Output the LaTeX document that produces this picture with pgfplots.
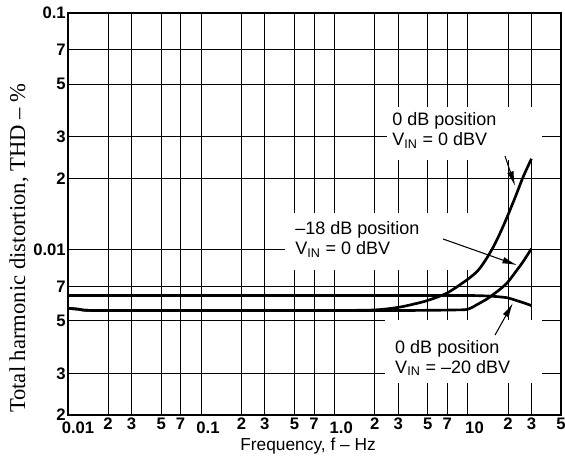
\documentclass[border=0pt]{standalone}
\usepackage{pgfplots}
\pgfplotsset{compat=1.18}
\usepackage{pgfplotstable}
\usepackage{fontspec}
\setmainfont{Liberation Sans}
\newfontfamily\serif{Liberation Serif}
\usetikzlibrary{arrows.meta}

% 0 dB position, V_IN = 0 dBV
\pgfplotstableread{
f thd
0.01 0.00565
0.012 0.0056
0.016 0.00553
0.1 0.00553
0.5 0.00553
1 0.00553
2 0.00556
3 0.0057
4 0.0059
5 0.0061
7 0.00656
10 0.0075
12 0.0082
14 0.00928
16 0.0106
18 0.0122
20 0.0140
23 0.0170
26 0.0203
30 0.0242
}\curveA

% -18 dB position, V_IN = 0 dBV
\pgfplotstableread{
f thd
0.01 0.00565
0.012 0.0056
0.016 0.00553
0.1 0.00553
1 0.00553
3 0.00553
5 0.00554
8 0.00556
10 0.0056
12 0.0059
14 0.0062
16 0.00655
18 0.0069
20 0.0073
23 0.0081
26 0.0089
30 0.0101
}\curveB

% 0 dB position, V_IN = -20 dBV
\pgfplotstableread{
f thd
0.01 0.0064
0.1 0.0064
1 0.0064
5 0.0064
10 0.0064
14 0.00637
17 0.00632
20 0.00625
23 0.0061
26 0.00597
30 0.0058
}\curveC

\newcommand\dec[2][10pt]{\hspace*{#1}\rule{0pt}{12pt}#2}

\begin{document}
\begin{tikzpicture}
\useasboundingbox (-51pt,-34.5pt) rectangle (372.75pt,311.25pt);
\begin{axis}[
  scale only axis, width=369.75pt, height=301.5pt,
  xmode=log, ymode=log,
  xmin=0.01, xmax=50, ymin=0.002, ymax=0.1,
  xtick={0.01,0.02,0.03,0.05,0.07,0.1,0.2,0.3,0.5,0.7,1,2,3,5,7,10,20,30,50},
  xticklabels={{\dec[15pt]{0.01}},2,3,5,7,{\dec{0.1}},2,3,5,7,{\dec{1.0}},2,3,5,7,{\dec{10}},2,3,5},
  ytick={0.002,0.003,0.005,0.007,0.01,0.02,0.03,0.05,0.07,0.1},
  yticklabels={2,3,5,7,0.01,2,3,5,7,0.1},
  grid=major, major grid style={black, line width=0.6pt},
  axis line style={black, line width=1.1pt},
  tick style={draw=none},
  ticklabel style={font=\bfseries\fontsize{12.5}{14}\selectfont},
  xticklabel style={inner ysep=2pt},
  yticklabel style={inner xsep=1.5pt},
  xlabel={Frequency, f \textendash{} Hz},
  xlabel style={at={(axis description cs:0.487,-0.0771)}, anchor=center, font=\fontsize{13}{15}\selectfont},
  ylabel={Total harmonic distortion, THD \textendash{} \%},
  ylabel style={at={(axis description cs:-0.0994,0.415)}, anchor=center, font=\serif\fontsize{17}{20}\selectfont},
]
% white masks behind the notes
\fill[white] (axis cs:2.475,0.0239) rectangle (axis cs:36,0.0401);
\fill[white] (axis cs:0.4246,0.0082) rectangle (axis cs:14.66,0.01428);
\fill[white] (axis cs:2.389,0.00273) rectangle (axis cs:36,0.00504);

\addplot[black, line width=2pt, smooth, tension=0.5] table[x=f, y=thd] {\curveA};
\addplot[black, line width=2pt, smooth, tension=0.5] table[x=f, y=thd] {\curveB};
\addplot[black, line width=2pt, smooth, tension=0.5] table[x=f, y=thd] {\curveC};

\node[anchor=west, align=left, inner sep=0pt, font=\fontsize{13.5}{15}\selectfont]
  at (axis cs:2.70,0.0320) {0 dB position\\V\textsubscript{IN} = 0 dBV};
\node[anchor=west, align=left, inner sep=0pt, font=\fontsize{13.5}{15}\selectfont]
  at (axis cs:0.505,0.01104) {\textendash18 dB position\\V\textsubscript{IN} = 0 dBV};
\node[anchor=west, align=left, inner sep=0pt, font=\fontsize{13.5}{15}\selectfont]
  at (axis cs:2.84,0.003483) {0 dB position\\V\textsubscript{IN} = \textendash20 dBV};

\draw[-{Latex[length=11pt,width=5pt]}, line width=0.8pt] (axis cs:19.0,0.02487) -- (axis cs:22.6,0.01858);
\draw[-{Latex[length=11pt,width=5pt]}, line width=0.8pt] (axis cs:6.51,0.01109) -- (axis cs:23.4,0.0086);
\draw[-{Latex[length=11pt,width=5pt]}, line width=0.8pt] (axis cs:16.0,0.004356) -- (axis cs:21.8,0.00595);
\end{axis}
\end{tikzpicture}
\end{document}
